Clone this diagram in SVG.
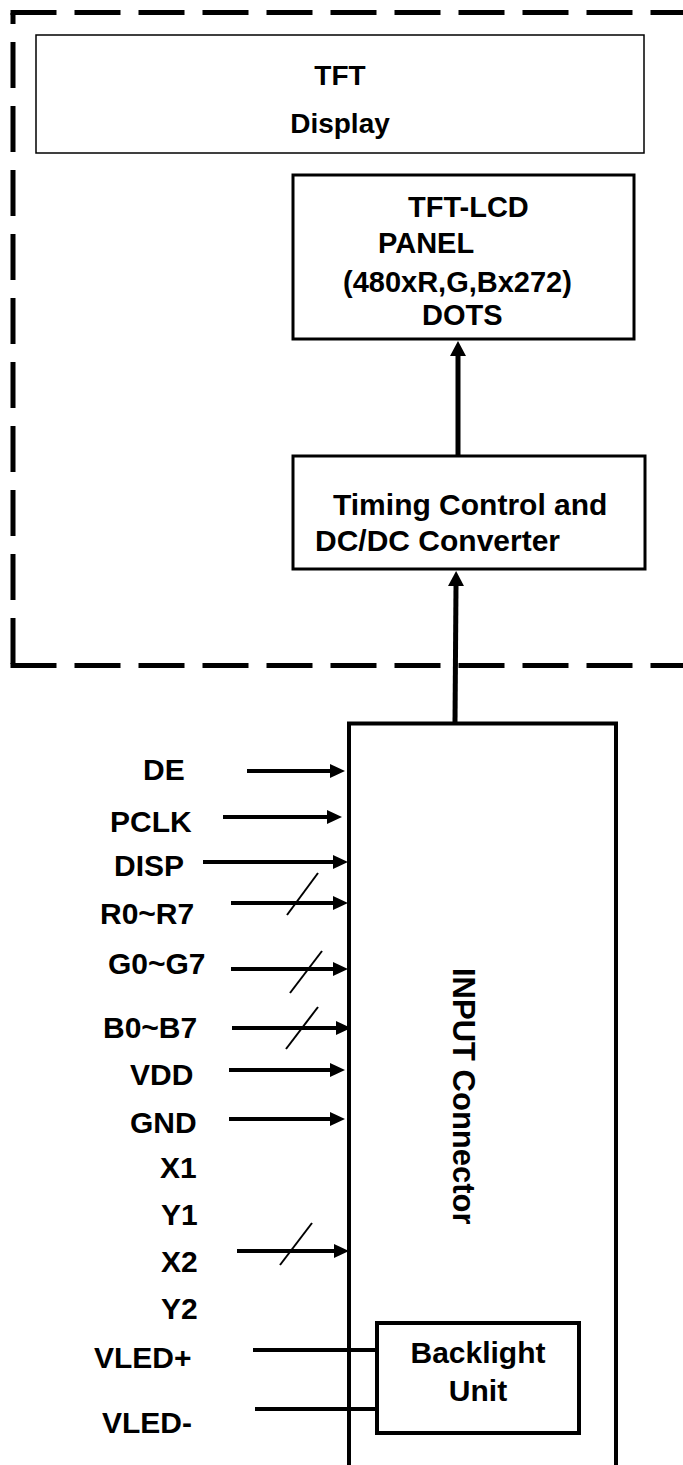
<svg xmlns="http://www.w3.org/2000/svg" width="683" height="1465" viewBox="0 0 683 1465">
<style>
text{font-family:"Liberation Sans",Arial,sans-serif;font-weight:bold;fill:#000}
.lbl{font-size:30px}
.box{fill:#fff;stroke:#000}
.dash{stroke:#000;stroke-width:5;fill:none;stroke-dasharray:46 18}
.sig{stroke:#000;stroke-width:4;fill:none}
.slash{stroke:#000;stroke-width:2;fill:none}
.bus{stroke:#000;stroke-width:5;fill:none}
</style>
<defs>
<marker id="ah" markerUnits="userSpaceOnUse" markerWidth="16" markerHeight="15" refX="0" refY="7" orient="auto">
<path d="M0,0 L15,7 L0,14 z" fill="#000"/>
</marker>
<marker id="ahb" markerUnits="userSpaceOnUse" markerWidth="16" markerHeight="17" refX="0" refY="8" orient="auto">
<path d="M0,0 L15,8 L0,16 z" fill="#000"/>
</marker>
</defs>
<g id="frame">
<line class="dash" x1="10.5" y1="12.5" x2="690" y2="12.5"/>
<line class="dash" x1="13" y1="13" x2="13" y2="668" style="stroke-dashoffset:35"/>
<line class="dash" x1="10.5" y1="665.5" x2="690" y2="665.5"/>
</g>
<g id="tft-display">
<rect class="box" x="36" y="35" width="608" height="118" stroke-width="1.5"/>
<text x="340" y="85" font-size="28" text-anchor="middle">TFT</text>
<text x="340" y="133" font-size="28" text-anchor="middle">Display</text>
</g>
<g id="panel">
<rect class="box" x="293" y="175" width="341" height="164" stroke-width="3"/>
<text x="408" y="217" font-size="29">TFT-LCD</text>
<text x="378" y="253" font-size="29">PANEL</text>
<text x="343" y="292" font-size="29">(480xR,G,Bx272)</text>
<text x="422" y="325" font-size="29">DOTS</text>
</g>
<g id="timing">
<rect class="box" x="293" y="456" width="352" height="113" stroke-width="3"/>
<text x="333" y="515" font-size="30">Timing Control and</text>
<text x="315" y="551" font-size="30">DC/DC Converter</text>
</g>
<g id="input-connector">
<path d="M349,1470 L349,723.5 L616,723.5 L616,1470" fill="#fff" stroke="#000" stroke-width="4"/>
<text transform="translate(453,968) rotate(90)" font-size="31">INPUT Connector</text>
</g>
<g id="backlight">
<rect class="box" x="377" y="1323" width="202" height="110" stroke-width="4"/>
<text x="478" y="1363" font-size="30" text-anchor="middle">Backlight</text>
<text x="478" y="1401" font-size="30" text-anchor="middle">Unit</text>
</g>
<g id="labels">
<text class="lbl" x="143" y="780">DE</text>
<text class="lbl" x="110" y="832">PCLK</text>
<text class="lbl" x="114" y="876">DISP</text>
<text class="lbl" x="100" y="924">R0~R7</text>
<text class="lbl" x="108" y="974">G0~G7</text>
<text class="lbl" x="103" y="1038">B0~B7</text>
<text class="lbl" x="130" y="1085">VDD</text>
<text class="lbl" x="130" y="1133">GND</text>
<text class="lbl" x="160" y="1178">X1</text>
<text class="lbl" x="161" y="1225">Y1</text>
<text class="lbl" x="161" y="1272">X2</text>
<text class="lbl" x="161" y="1319">Y2</text>
<text class="lbl" x="94" y="1368">VLED+</text>
<text class="lbl" x="102" y="1433">VLED-</text>
</g>
<g id="connectors">
<line class="bus" x1="458" y1="456" x2="458" y2="356" marker-end="url(#ahb)"/>
<line class="bus" x1="455" y1="722" x2="456" y2="586" marker-end="url(#ahb)"/>
<line class="sig" x1="247" y1="771" x2="330" y2="771" marker-end="url(#ah)"/>
<line class="sig" x1="223" y1="817" x2="327" y2="817" marker-end="url(#ah)"/>
<line class="sig" x1="203" y1="862" x2="333" y2="862" marker-end="url(#ah)"/>
<line class="sig" x1="231" y1="903" x2="333" y2="903" marker-end="url(#ah)"/>
<line class="slash" x1="287" y1="915" x2="318" y2="873"/>
<line class="sig" x1="231" y1="969" x2="333" y2="969" marker-end="url(#ah)"/>
<line class="slash" x1="290" y1="993" x2="322" y2="951"/>
<line class="sig" x1="232" y1="1028" x2="336" y2="1028" marker-end="url(#ah)"/>
<line class="slash" x1="286" y1="1049" x2="318" y2="1007"/>
<line class="sig" x1="229" y1="1070" x2="330" y2="1070" marker-end="url(#ah)"/>
<line class="sig" x1="229" y1="1119" x2="330" y2="1119" marker-end="url(#ah)"/>
<line class="sig" x1="237" y1="1251" x2="334" y2="1251" marker-end="url(#ah)"/>
<line class="slash" x1="280" y1="1265" x2="312" y2="1223"/>
<line class="sig" x1="253" y1="1350" x2="377" y2="1350"/>
<line class="sig" x1="255" y1="1409" x2="377" y2="1409"/>
</g>
</svg>
